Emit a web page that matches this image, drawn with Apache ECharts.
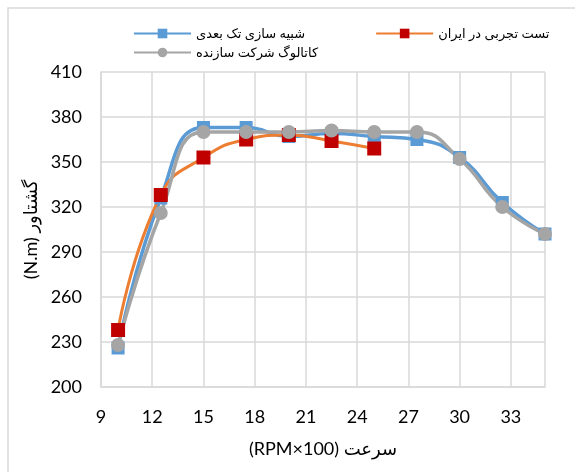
<!DOCTYPE html>
<html>
<head>
<meta charset="utf-8">
<script src="https://cdn.jsdelivr.net/npm/echarts@6/dist/echarts.min.js"></script>
<style>
  html, body { margin: 0; padding: 0; background: #fff; }
  #chart { width: 575px; height: 472px; }
</style>
</head>
<body>
<div id="chart"></div>
<script>
// Engine speed (RPM x 100)
const speed = [10, 12.5, 15, 17.5, 20, 22.5, 25, 27.5, 30, 32.5, 35];
// Torque (N.m): one-dimensional simulation
const simTorque = [226, 326, 373, 373, 367, 369, 367, 365, 353, 323, 302];
// Torque (N.m): experimental test in Iran (measured up to 2500 rpm)
const testSpeed = [10, 12.5, 15, 17.5, 20, 22.5, 25];
const testTorque = [238, 328, 353, 365, 368, 364, 359];
// Torque (N.m): manufacturer catalogue
const catTorque = [228, 316, 370, 370, 370, 371, 370, 370, 352, 320, 302];

const seriesNames = ['شبیه سازی تک بعدی', 'تست تجربی در ایران', 'کاتالوگ شرکت سازنده'];
const xTitle = '(RPM×100) سرعت';
const yTitle = '(N.m) گشتاور';

const FONT = 'Lato, "DejaVu Sans", sans-serif';
const GRID_COLOR = '#D9D9D9';

function pairs(xs, ys) { return xs.map((x, i) => [x, ys[i]]); }

const chart = echarts.init(document.getElementById('chart'), null, { renderer: 'canvas' });

chart.setOption({
  animation: false,
  backgroundColor: '#fff',
  textStyle: { fontFamily: FONT },
  graphic: [{
    type: 'rect',
    shape: { x: 8, y: 8, width: 600, height: 600 },
    style: { fill: 'none', stroke: GRID_COLOR, lineWidth: 1.5 },
    silent: true, z: -10
  }],
  legend: [{
    data: [seriesNames[0], seriesNames[1]],
    left: 128, top: 22,
    itemWidth: 57, itemHeight: 12, itemGap: 70,
    textStyle: { fontFamily: FONT, fontSize: 13, color: '#000' }
  }, {
    data: [seriesNames[2]],
    left: 128, top: 41,
    itemWidth: 57, itemHeight: 12,
    textStyle: { fontFamily: FONT, fontSize: 13, color: '#000' }
  }],
  grid: { left: 101, right: 30, top: 72, bottom: 85, containLabel: false },
  xAxis: {
    type: 'value',
    min: 9, max: 35, interval: 3,
    name: xTitle,
    nameLocation: 'middle', nameGap: 53,
    nameTextStyle: { fontFamily: FONT, fontSize: 18, color: '#000' },
    axisLine: { show: true, lineStyle: { color: GRID_COLOR, width: 1.5 } },
    axisTick: { show: false },
    axisLabel: {
      margin: 21, fontSize: 18, color: '#000', fontFamily: FONT,
      formatter: v => (v === 35 ? '' : String(v))
    },
    splitLine: { show: true, lineStyle: { color: GRID_COLOR, width: 1.5 } }
  },
  yAxis: {
    type: 'value',
    min: 200, max: 410, interval: 30,
    name: yTitle,
    nameLocation: 'middle', nameGap: 56, nameRotate: 90,
    nameTextStyle: { fontFamily: FONT, fontSize: 18, color: '#000' },
    axisLine: { show: true, lineStyle: { color: GRID_COLOR, width: 1.5 } },
    axisTick: { show: false },
    axisLabel: { margin: 19, fontSize: 18, color: '#000', fontFamily: FONT },
    splitLine: { show: true, lineStyle: { color: GRID_COLOR, width: 1.5 } }
  },
  series: [{
    name: seriesNames[0],
    type: 'line',
    data: pairs(speed, simTorque),
    smooth: 0.5,
    symbol: 'rect', symbolSize: 13,
    lineStyle: { color: '#5B9BD5', width: 3.5 },
    itemStyle: { color: '#5B9BD5' }
  }, {
    name: seriesNames[1],
    type: 'line',
    data: pairs(testSpeed, testTorque),
    smooth: 0.5,
    symbol: 'rect', symbolSize: 14,
    lineStyle: { color: '#ED7D31', width: 3 },
    itemStyle: { color: '#C00000' }
  }, {
    name: seriesNames[2],
    type: 'line',
    data: pairs(speed, catTorque),
    smooth: 0.5,
    symbol: 'circle', symbolSize: 14,
    lineStyle: { color: '#A5A5A5', width: 3.5 },
    itemStyle: { color: '#A5A5A5' }
  }]
});
</script>
</body>
</html>
